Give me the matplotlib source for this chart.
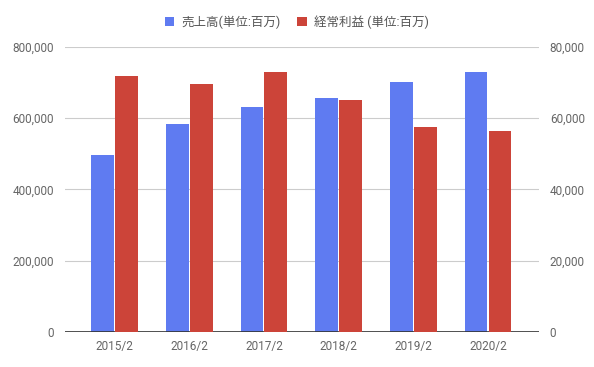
import matplotlib
matplotlib.use("Agg")
import matplotlib.pyplot as plt
from matplotlib.patches import Patch
from matplotlib.ticker import FuncFormatter
import numpy as np

# Data
years = ["2015/2", "2016/2", "2017/2", "2018/2", "2019/2", "2020/2"]
sales = [496000, 583000, 631000, 656000, 701000, 729000]        # 売上高 (left axis)
ordinary_profit = [71900, 69500, 72900, 65100, 57500, 56400]   # 経常利益 (right axis)
left_ticks = [0, 200000, 400000, 600000, 800000]
right_ticks = [0, 20000, 40000, 60000, 80000]
sales_label = "売上高(単位:百万)"
profit_label = "経常利益 (単位:百万)"

plt.rcParams['font.family'] = ['Roboto', 'Noto Sans CJK JP', 'DejaVu Sans']

blue = '#5f7bf1'
red = '#cc4439'
tick_color = '#666666'

fig = plt.figure(figsize=(5.94, 3.67), dpi=100)
ax = fig.add_axes([0.110, 0.0954, 0.797, 0.7776])
ax2 = ax.twinx()

x = np.arange(len(years))
w = 0.305
ax.bar(x - w / 2 - 0.007, sales, width=w, color=blue, zorder=3)
ax2.bar(x + w / 2 + 0.007, ordinary_profit, width=w, color=red, zorder=3)

ax.set_ylim(0, 800000)
ax2.set_ylim(0, 80000)
ax.set_xlim(-0.66, 5.68)
ax.set_yticks(left_ticks)
ax2.set_yticks(right_ticks)
fmt = FuncFormatter(lambda v, p: f"{int(v):,}")
ax.yaxis.set_major_formatter(fmt)
ax2.yaxis.set_major_formatter(fmt)
ax.set_xticks(x)
ax.set_xticklabels(years)

ax.grid(axis='y', color='#cccccc', lw=0.8, zorder=0)
ax.set_axisbelow(True)
ax.axhline(0, color='#333333', lw=1.2, zorder=4)

for a in (ax, ax2):
    for s in a.spines.values():
        s.set_visible(False)
    a.tick_params(length=0, labelsize=8.5, colors=tick_color)
ax.tick_params(axis='y', pad=8)
ax2.tick_params(axis='y', pad=8)
ax.tick_params(axis='x', pad=6)

handles = [Patch(facecolor=blue, label=sales_label),
           Patch(facecolor=red, label=profit_label)]
leg = fig.legend(handles=handles, loc='center', bbox_to_anchor=(0.5, 0.94),
                 ncol=2, frameon=False, fontsize=9, handlelength=0.75,
                 handleheight=0.75, handletextpad=0.6, columnspacing=1.3)
for t in leg.get_texts():
    t.set_color('#555555')

fig.savefig("out.png", dpi=100)
